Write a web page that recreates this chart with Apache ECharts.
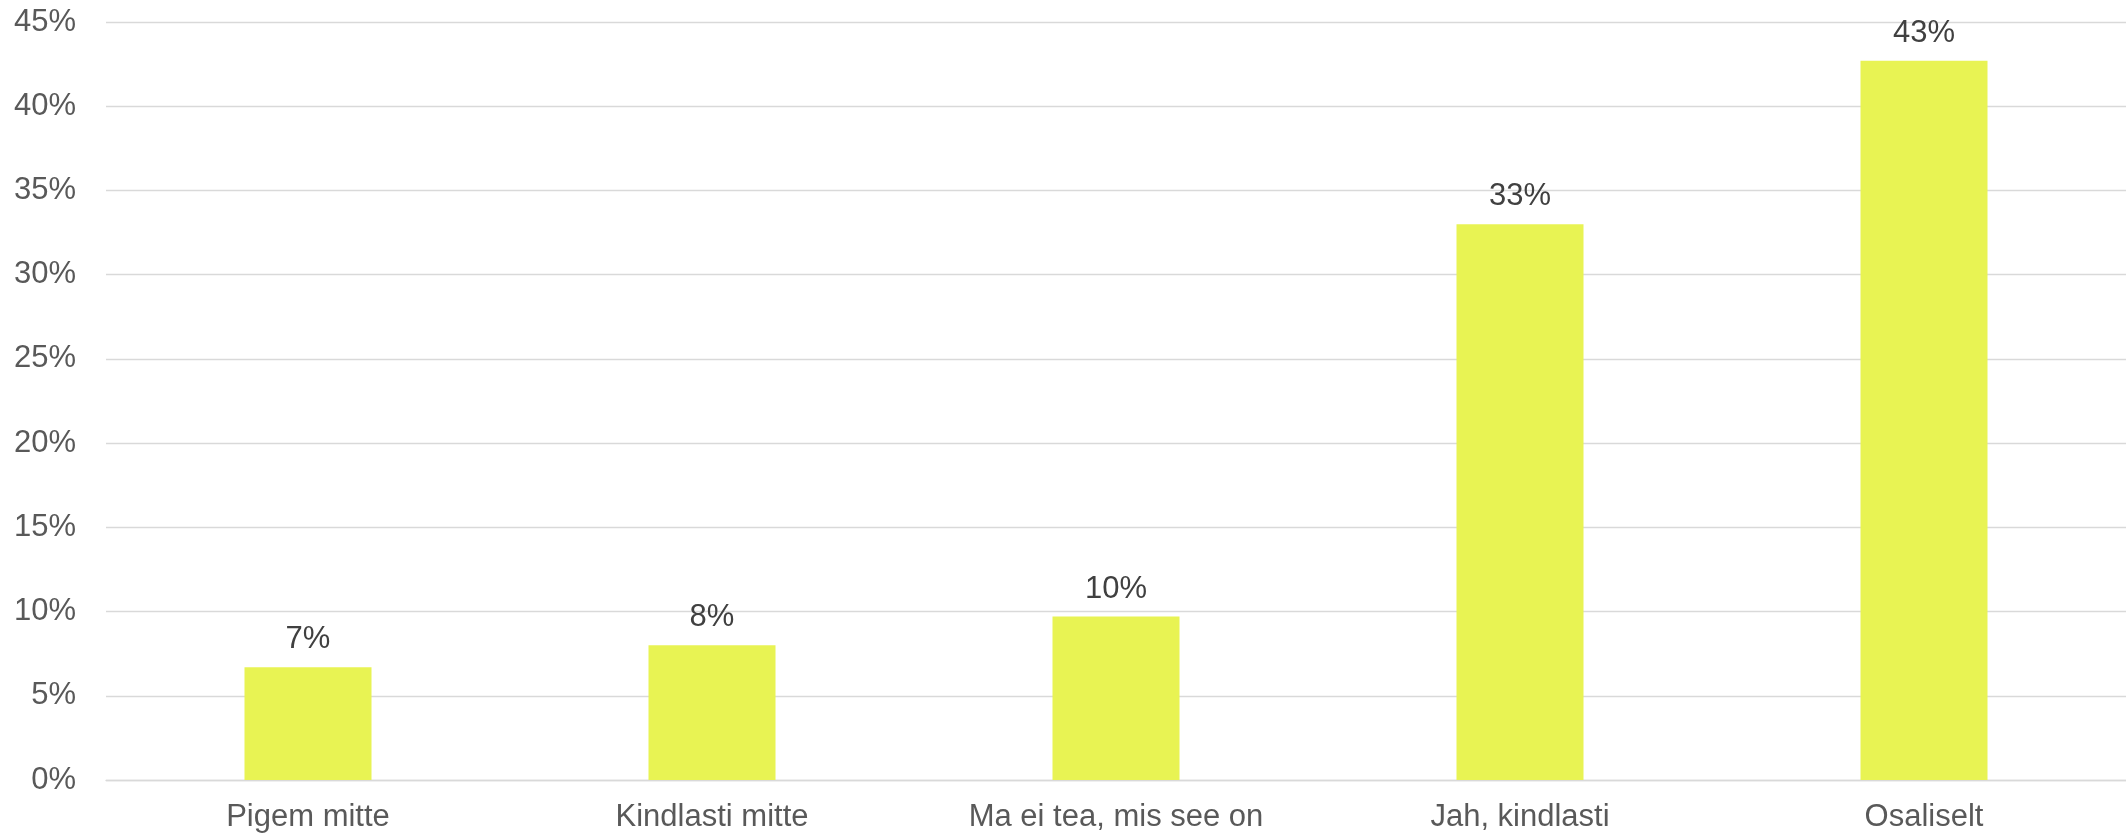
<!DOCTYPE html>
<html>
<head>
<meta charset="utf-8">
<script src="https://cdn.jsdelivr.net/npm/echarts@6/dist/echarts.min.js"></script>
<style>
html,body{margin:0;padding:0;background:#fff;}
#c{width:2126px;height:836px;}
</style>
</head>
<body>
<div id="c"></div>
<script>
const categories = ['Pigem mitte', 'Kindlasti mitte', 'Ma ei tea, mis see on', 'Jah, kindlasti', 'Osaliselt'];
const values = [6.7, 8.0, 9.7, 33.0, 42.7];
const yTicks = [0, 5, 10, 15, 20, 25, 30, 35, 40, 45];

const chart = echarts.init(document.getElementById('c'), null, {renderer: 'canvas'});
chart.setOption({
  animation: false,
  grid: {left: 106, right: 0, top: 22, bottom: 56, containLabel: false},
  xAxis: {
    type: 'category',
    data: categories,
    axisLine: {show: true, lineStyle: {color: '#D9D9D9', width: 1.3}},
    axisTick: {show: false},
    axisLabel: {
      color: '#595959',
      fontFamily: 'Liberation Sans, Arial, sans-serif',
      fontSize: 31,
      margin: 22
    }
  },
  yAxis: {
    type: 'value',
    min: yTicks[0],
    max: yTicks[yTicks.length - 1],
    interval: 5,
    axisLine: {show: false},
    axisTick: {show: false},
    splitLine: {lineStyle: {color: '#D9D9D9', width: 1.3}},
    axisLabel: {
      color: '#595959',
      fontFamily: 'Liberation Sans, Arial, sans-serif',
      fontSize: 31,
      margin: 30,
      formatter: v => v + '%'
    }
  },
  series: [{
    type: 'bar',
    data: values,
    barWidth: 127,
    itemStyle: {color: '#E8F353'},
    label: {
      show: true,
      position: 'top',
      distance: 12,
      color: '#404040',
      fontFamily: 'Liberation Sans, Arial, sans-serif',
      fontSize: 31,
      formatter: p => Math.round(p.value) + '%'
    }
  }]
});
</script>
</body>
</html>
